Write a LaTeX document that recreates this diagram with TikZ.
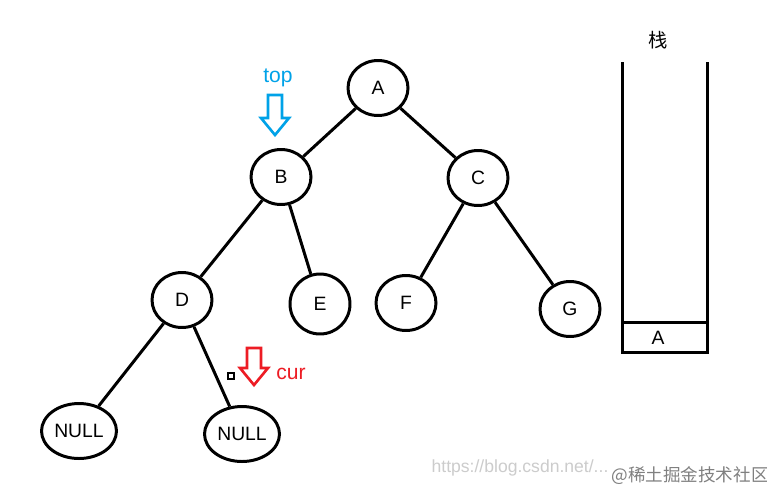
\documentclass[tikz,border=0pt]{standalone}
\usepackage{fontspec}
\setmainfont{Liberation Sans}
\newfontfamily\cjk{Noto Sans CJK SC}
\usetikzlibrary{shapes.geometric}
\begin{document}
\begin{tikzpicture}[x=0.02cm,y=-0.02cm,
 nd/.style={draw,ellipse,line width=1.7pt,minimum width=1.2cm,minimum height=1.1cm,inner sep=0pt,font=\fontsize{11}{11}\selectfont},
 nl/.style={nd,minimum width=1.5cm},
 ed/.style={line width=1.7pt},
 hol/.style={line width=1.5pt}]
\useasboundingbox[fill=white] (0,0) rectangle (767,491);
\node[nd] (A) at (378,88) {A};
\node[nd] (B) at (281,177) {B};
\node[nd] (C) at (478,178) {C};
\node[nd] (D) at (182,300) {D};
\node[nd,minimum height=1.2cm] (E) at (320,304) {E};
\node[nd] (F) at (406,303) {F};
\node[nd] (G) at (570,309) {G};
\node[nl] (N1) at (79,431) {NULL};
\node[nl] (N2) at (242,434) {NULL};
\draw[ed] (A) -- (B);
\draw[ed] (A) -- (C);
\draw[ed] (B) -- (D);
\draw[ed] (B) -- (E);
\draw[ed] (C) -- (F);
\draw[ed] (C) -- (G);
\draw[ed] (D) -- (N1);
\draw[ed] (D) -- (N2);
% stack
\coordinate (s1) at (622,62);
\coordinate (s2) at (707,62);
\draw[ed] (s1) -- (622,352) -- (707,352) -- (s2);
\draw[ed] (622,322) -- (707,322);
\node[font=\fontsize{11}{11}\selectfont] (sa) at (658,338) {A};
\node[font=\cjk\fontsize{11}{11}\selectfont] (st) at (658,40) {栈};
% top arrow
\node[text={rgb,255:red,0;green,162;blue,232},font=\fontsize{12}{12}\selectfont] (top) at (278,78) {top};
\draw[hol,draw={rgb,255:red,0;green,162;blue,232}] (268,95) -- (282,95) -- (282,118) -- (289,118) -- (275,135) -- (261,118) -- (268,118) -- cycle;
% cur arrow
\node[text={rgb,255:red,237;green,28;blue,36},font=\fontsize{12}{12}\selectfont] (cur) at (291,374) {cur};
\draw[hol,draw={rgb,255:red,237;green,28;blue,36}] (247,348) -- (261,348) -- (261,368) -- (268,368) -- (254,385) -- (240,368) -- (247,368) -- cycle;
\draw[line width=0.6pt] (228,373) rectangle (234,379);
\node[text=gray!40,font=\fontsize{10}{10}\selectfont] (url) at (520,468) {https://blog.csdn.net/...};
\node[text=gray,font=\cjk\fontsize{10}{10}\selectfont] (wm) at (690,476) {@稀土掘金技术社区};
\end{tikzpicture}
\end{document}
